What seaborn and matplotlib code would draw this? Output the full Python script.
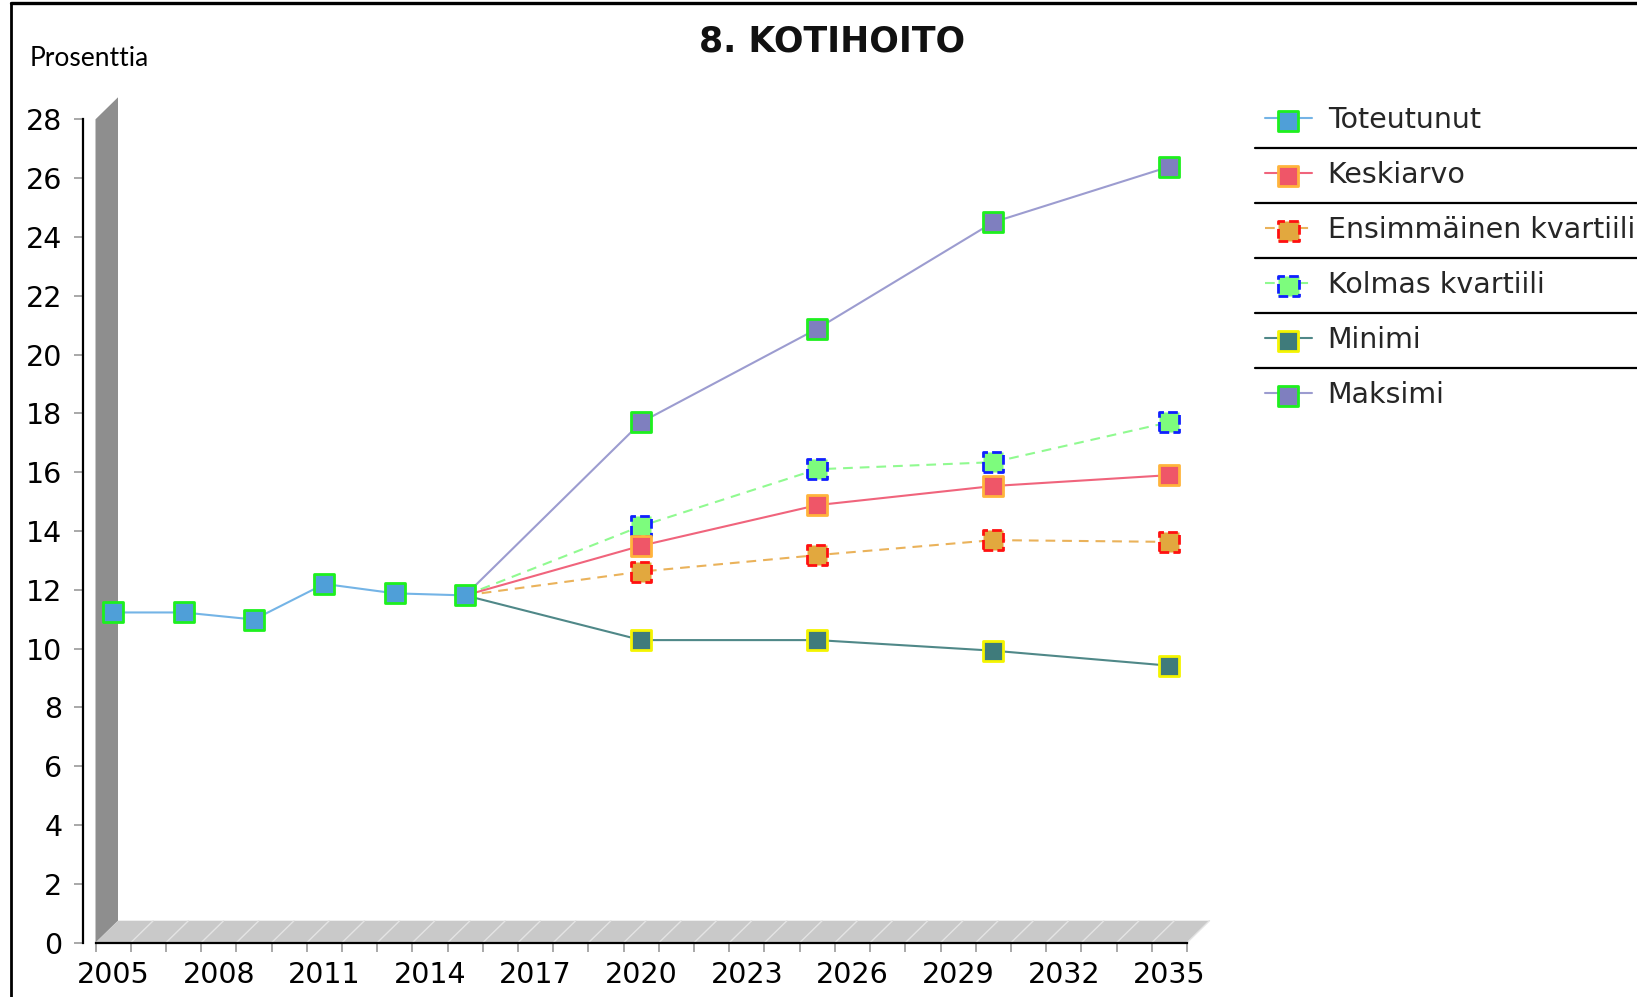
import numpy as np
import pandas as pd
import matplotlib
matplotlib.use("Agg")
import matplotlib.pyplot as plt
import matplotlib.transforms as mtransforms
from matplotlib.patches import Polygon
from matplotlib.lines import Line2D
from matplotlib.legend_handler import HandlerTuple
import seaborn as sns

# ---------------- data ----------------
years_actual = [2005, 2007, 2009, 2011, 2013, 2015]
toteutunut = [11.23, 11.23, 10.99, 12.20, 11.88, 11.81]

years_proj = [2015, 2020, 2025, 2030, 2035]
keskiarvo = [11.81, 13.50, 14.88, 15.53, 15.90]
ensimmainen_kvartiili = [11.81, 12.62, 13.18, 13.69, 13.63]
kolmas_kvartiili = [11.81, 14.17, 16.10, 16.34, 17.70]
minimi = [11.81, 10.29, 10.29, 9.93, 9.42]
maksimi = [11.81, 17.70, 20.88, 24.50, 26.39]

series_names = ["Toteutunut", "Keskiarvo", "Ensimmäinen kvartiili",
                "Kolmas kvartiili", "Minimi", "Maksimi"]
x_label_years = [2005, 2008, 2011, 2014, 2017, 2020, 2023, 2026, 2029, 2032, 2035]
y_ticks = list(range(0, 29, 2))
title_text = "8. KOTIHOITO"
y_title = "Prosenttia"

# ---------------- style ----------------
sns.set_style("white")
plt.rcParams["font.family"] = ["DejaVu Sans"]
plt.rcParams["lines.scale_dashes"] = False

W, H = 1637, 997
fig = plt.figure(figsize=(W / 100, H / 100), dpi=100)
fig.patch.set_facecolor("white")

# pixel geometry (full-size reference)
ax_left, ax_right = 95.5, 1187.0
ax_top, ax_bottom = 119.3, 942.7
ax = fig.add_axes([ax_left / W, (H - ax_bottom) / H,
                   (ax_right - ax_left) / W, (ax_bottom - ax_top) / H])
ax.set_facecolor("none")
ax.set_xlim(2004.5, 2035.5)
ax.set_ylim(0, 28)

DASH = (0, (7, 5))
MDASH = (0, (7, 3))
styles = {
    "Toteutunut": dict(line="#74b4e6", face="#4f9fd8", edge="#1ef01e", ls="-", mls="-"),
    "Keskiarvo": dict(line="#f0647c", face="#ef5668", edge="#ffb43c", ls="-", mls="-"),
    "Ensimmäinen kvartiili": dict(line="#eab25a", face="#e2a83e", edge="#ff1010", ls=DASH, mls=MDASH),
    "Kolmas kvartiili": dict(line="#90fa90", face="#7dfc7d", edge="#1020ff", ls=DASH, mls=MDASH),
    "Minimi": dict(line="#4f8888", face="#3f7b7b", edge="#f4f400", ls="-", mls="-"),
    "Maksimi": dict(line="#9c9cd0", face="#7f7fbf", edge="#1ef01e", ls="-", mls="-"),
}
series_data = {
    "Toteutunut": (years_actual, toteutunut),
    "Keskiarvo": (years_proj, keskiarvo),
    "Ensimmäinen kvartiili": (years_proj, ensimmainen_kvartiili),
    "Kolmas kvartiili": (years_proj, kolmas_kvartiili),
    "Minimi": (years_proj, minimi),
    "Maksimi": (years_proj, maksimi),
}
draw_order = ["Maksimi", "Kolmas kvartiili", "Ensimmäinen kvartiili",
              "Keskiarvo", "Minimi", "Toteutunut"]

handles = {}
for i, name in enumerate(draw_order):
    xs, ys = series_data[name]
    st = styles[name]
    df = pd.DataFrame({"x": xs, "y": ys})
    sns.lineplot(data=df, x="x", y="y", ax=ax, color=st["line"], linewidth=1.5,
                 linestyle=st["ls"], zorder=3 + i * 0.01, estimator=None, sort=False)
    # projection series start from the last actual point, whose marker is Toteutunut's
    mdf = df if name == "Toteutunut" else df[df["x"] > years_actual[-1]]
    sns.scatterplot(data=mdf, x="x", y="y", ax=ax, marker="s", s=210,
                    color=st["face"], edgecolor=st["edge"], linewidth=2.0,
                    linestyle=st["mls"], zorder=4 + i * 0.01, legend=False)
    sc = ax.collections[-1]
    proxy = Line2D([], [], color=st["line"], linewidth=1.5, linestyle=st["ls"])
    handles[name] = (proxy, sc)

ax.set_xlabel("")
ax.set_ylabel("")

# ---------------- axes ----------------
for s in ["top", "right"]:
    ax.spines[s].set_visible(False)
ax.spines["left"].set_position(("outward", 9.2))
for s in ["left", "bottom"]:
    ax.spines[s].set_color("black")
    ax.spines[s].set_linewidth(1.6)

ax.set_yticks(y_ticks)
ax.set_yticklabels([str(v) for v in y_ticks])
ax.tick_params(axis="y", direction="out", length=6.5, width=1.2, color="#9a9a9a",
               pad=8, labelsize=20.5, labelcolor="black", left=True)

ax.set_xticks(x_label_years)
ax.set_xticklabels([str(v) for v in x_label_years])
ax.set_xticks(np.arange(2004.5, 2036.0, 1.0), minor=True)
ax.tick_params(axis="x", which="major", length=0, pad=13, labelsize=20.5, labelcolor="black")
ax.tick_params(axis="x", which="minor", direction="out", length=6.5, width=1.2,
               color="#9a9a9a", bottom=True)
ax.grid(False)

# ---------------- pseudo-3D wall and floor ----------------
off = np.array([22.5, 22.0])
ident = mtransforms.IdentityTransform()
p00 = ax.transAxes.transform((0, 0))
p01 = ax.transAxes.transform((0, 1))
p10 = ax.transAxes.transform((1, 0))
wall = Polygon([p00, p01, p01 + off, p00 + off], closed=True, transform=ident,
               facecolor="#8e8e8e", edgecolor="none", zorder=0.5, clip_on=False)
floor = Polygon([p00, p10, p10 + off, p00 + off], closed=True, transform=ident,
                facecolor="#c9c9c9", edgecolor="none", zorder=0.6, clip_on=False)
ax.add_artist(wall)
ax.add_artist(floor)
for xv in np.arange(2005.5, 2036.0, 1.0):
    pf = ax.transData.transform((xv, 0))
    pb = pf + off
    ax.add_artist(Line2D([pf[0], pb[0]], [pf[1], pb[1]], transform=ident,
                         color="#e4e4e4", linewidth=1.0, zorder=0.7, clip_on=False))

# ---------------- texts ----------------
fig.text(832 / W, 1 - 41 / H, title_text, ha="center", va="center",
         fontsize=25, fontweight="bold", color="#111111")
fig.text(30 / W, 1 - 58 / H, y_title, ha="left", va="center",
         fontsize=19, family=["Lato", "DejaVu Sans"], color="black")

# ---------------- legend ----------------
leg = fig.legend([handles[n] for n in series_names], series_names,
                 handler_map={tuple: HandlerTuple(ndivide=1)},
                 loc="upper left", bbox_to_anchor=(1265 / W, 1 - 106 / H),
                 bbox_transform=fig.transFigure, frameon=False, fontsize=20.5,
                 handlelength=1.65, handletextpad=0.55, labelspacing=0.95,
                 borderpad=0, borderaxespad=0, scatterpoints=1)

fig.canvas.draw()
renderer = fig.canvas.get_renderer()
texts = leg.get_texts()
centers = []
for t in texts:
    bb = t.get_window_extent(renderer)
    centers.append((bb.y0 + bb.y1) / 2)
for a, b in zip(centers[:-1], centers[1:]):
    ym = (a + b) / 2
    fig.add_artist(Line2D([1255, W + 5], [ym, ym], transform=ident,
                          color="black", linewidth=1.6))

# ---------------- figure border ----------------
fig.add_artist(Line2D([10.5, 10.5], [0, H - 3], transform=ident, color="black", linewidth=2.0))
fig.add_artist(Line2D([10.5, W], [H - 3, H - 3], transform=ident, color="black", linewidth=2.4))

fig.savefig("out.png", dpi=100, facecolor="white")
